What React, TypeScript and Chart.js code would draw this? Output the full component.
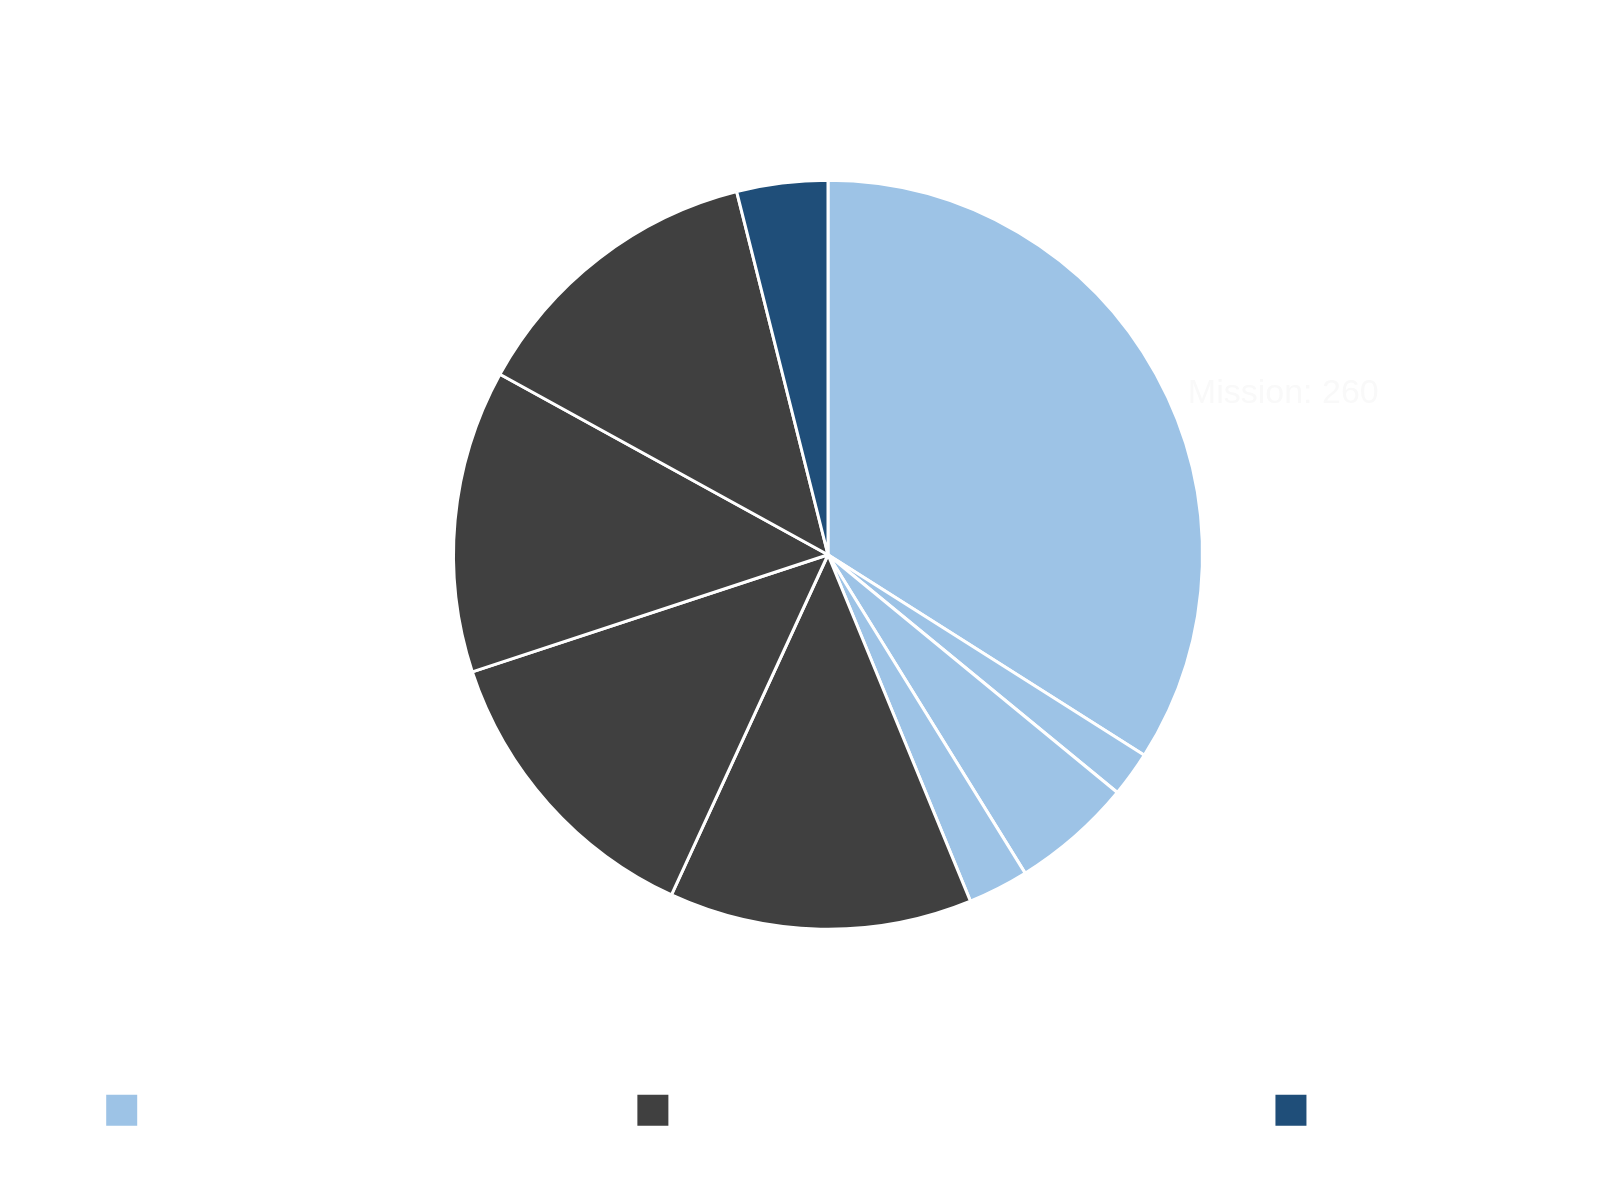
import React, { useEffect, useRef } from 'react';
import { Chart, registerables, Tooltip } from 'chart.js';

Chart.register(...registerables);

// ---- data ----
const sliceLabels = [
  'Mission',
  'Outreach',
  'Research',
  'Training',
  'Salaries',
  'Facilities',
  'Administration',
  'Fundraising',
  'Reserves',
];
const sliceValues = [260, 15, 40, 20, 100, 100, 100, 100, 30];
const sliceGroup = [0, 0, 0, 0, 1, 1, 1, 1, 2];

const groupLabels = [
  'Mission and programme activities',
  'Operations and administrative overheads',
  'Capital reserves',
];
const groupColors = ['#9DC3E6', '#404040', '#1F4E79'];

const highlightedIndex = 0;

(Tooltip as any).positioners.sideLabel = function (items: any[]) {
  if (!items.length) return false;
  const el = items[0].element;
  const r = el.outerRadius;
  return { x: el.x + r * 1.2157, y: el.y - r * 0.429 };
};

export default function App() {
  const canvasRef = useRef<HTMLCanvasElement | null>(null);

  useEffect(() => {
    if (!canvasRef.current) return;
    const chart = new Chart(canvasRef.current, {
      type: 'pie',
      data: {
        labels: sliceLabels,
        datasets: [
          {
            data: sliceValues,
            backgroundColor: sliceGroup.map((g) => groupColors[g]),
            borderColor: '#ffffff',
            borderWidth: 3,
            hoverOffset: 0,
            radius: 374.5,
          } as any,
        ],
      },
      options: {
        responsive: true,
        maintainAspectRatio: false,
        animation: false,
        events: [],
        layout: {
          padding: { top: 24, left: 56, right: 0, bottom: 56 },
        },
        plugins: {
          title: { display: false },
          legend: {
            display: true,
            position: 'bottom',
            labels: {
              boxWidth: 31,
              boxHeight: 31,
              padding: 17,
              color: '#ffffff',
              font: { family: 'Liberation Sans', size: 31.5 },
              generateLabels: () =>
                groupLabels.map((text, i) => ({
                  text,
                  fillStyle: groupColors[i],
                  strokeStyle: groupColors[i],
                  lineWidth: 0,
                  hidden: false,
                  index: i,
                  fontColor: '#ffffff',
                })),
            },
          },
          tooltip: {
            enabled: true,
            animation: false,
            position: 'sideLabel' as any,
            xAlign: 'center',
            yAlign: 'center',
            caretSize: 0,
            displayColors: false,
            backgroundColor: 'rgba(255,255,255,0)',
            bodyColor: '#f9f9f9',
            bodyFont: { family: 'Liberation Sans', size: 34 },
            padding: 6,
            callbacks: {
              title: () => '',
              label: (item: any) => `${item.label}: ${item.formattedValue}`,
            },
          },
        },
      },
    });

    chart.tooltip?.setActiveElements([{ datasetIndex: 0, index: highlightedIndex }], { x: 0, y: 0 });
    chart.draw();

    return () => chart.destroy();
  }, []);

  return (
    <div style={{ position: 'relative', width: '1584px', height: '1184px' }}>
      <canvas ref={canvasRef} />
    </div>
  );
}
